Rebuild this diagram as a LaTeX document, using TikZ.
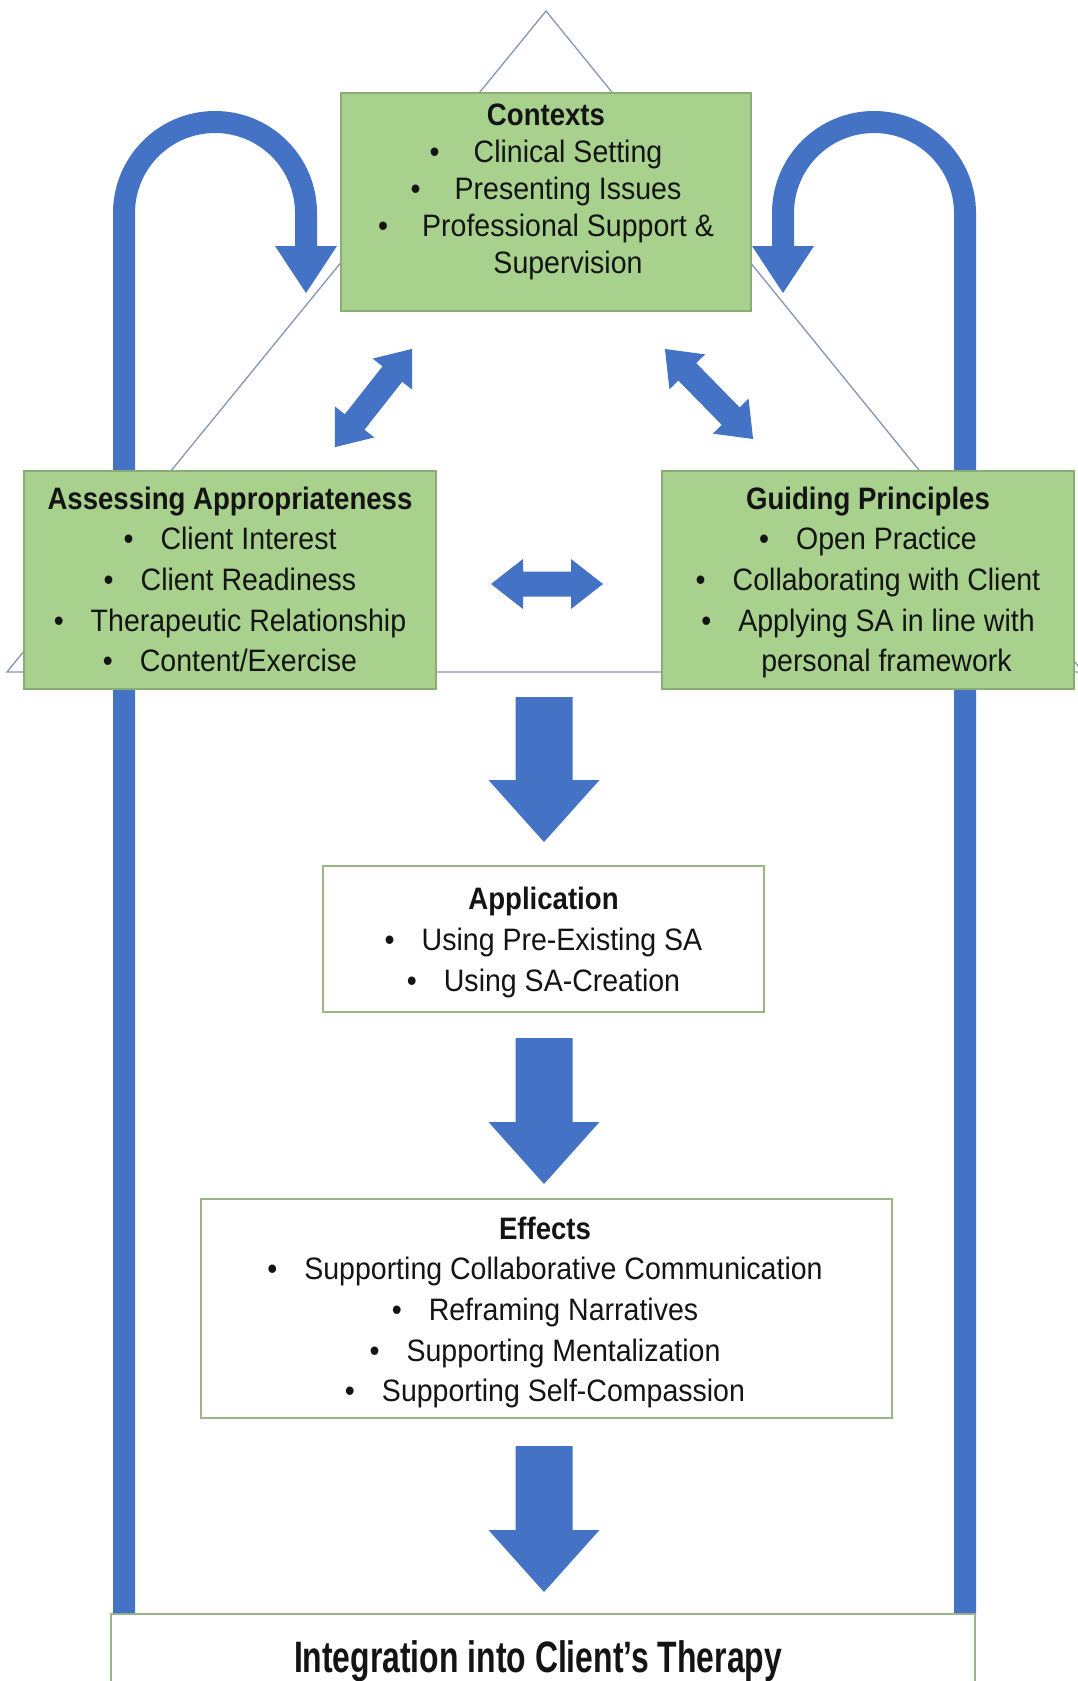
\documentclass[tikz,border=0pt]{standalone}
\usepackage{fontspec}
\setmainfont{Liberation Sans}[FakeStretch=0.92]
\newfontfamily\headfont{Liberation Sans}[FakeStretch=0.89]
\newfontfamily\bigheadfont{Liberation Sans}[FakeStretch=0.725]
\usetikzlibrary{calc}

\definecolor{sablue}{HTML}{4472C4}
\definecolor{gfill}{HTML}{A9D18E}
\definecolor{gline}{HTML}{8AAC75}
\definecolor{wline}{HTML}{9BB587}
\definecolor{triline}{HTML}{8496B0}

% bullets with their tab gap
\newcommand\bul{\makebox[37pt][l]{•}}
\newcommand\cbul{\makebox[44pt][l]{•}}
% fixed top/bottom extents so every text block centres the same way
\newcommand\topstrut{\rule{0pt}{24pt}}
\newcommand\botstrut{\rule[-7pt]{0pt}{7pt}}

\begin{document}
\begin{tikzpicture}[x=1pt,y=-1pt,
  gbox/.style={rectangle, draw=gline, fill=gfill, line width=1.6pt, inner sep=0pt},
  wbox/.style={rectangle, draw=wline, fill=white, line width=1.6pt, inner sep=0pt},
  txt/.style={align=center, inner sep=0pt, text=black!92, font=\fontsize{31}{40.6}\selectfont},
  loopband/.style={draw=sablue, line width=22pt},
  tri/.style={draw=triline, line width=1.3pt},
  pics/downblock/.style={code={
    \fill[sablue] (-28.5,0) -- (28.5,0) -- (28.5,{#1-62}) -- (55.5,{#1-62})
      -- (0,#1) -- (-55.5,{#1-62}) -- (-28.5,{#1-62}) -- cycle;}},
  pics/twoway/.style={code={
    \fill[sablue] ({-#1/2},0) -- ({-#1/2+32},25) -- ({-#1/2+32},12.5)
      -- ({#1/2-32},12.5) -- ({#1/2-32},25) -- ({#1/2},0)
      -- ({#1/2-32},-25) -- ({#1/2-32},-12.5) -- ({-#1/2+32},-12.5)
      -- ({-#1/2+32},-25) -- cycle;}}
]
\useasboundingbox (0,0) rectangle (1078,1681);

% background triangle
\coordinate (tapex) at (546,11);
\coordinate (tleft) at (7,672);
\coordinate (tright) at (1083,672);
\draw[tri] (tapex) -- (tleft) -- (tright) -- cycle;

% bottom box
\node[wbox, minimum width=864pt, minimum height=106pt] (integ) at (543,1667) {};

% feedback loops from the bottom back to the contexts
\coordinate (lturn) at (124,213);
\coordinate (lhead) at (306,247);
\coordinate (rturn) at (965,213);
\coordinate (rhead) at (783,247);
\draw[loopband] (lturn |- integ.north) -- (lturn)
  arc[start angle=180, end angle=0, radius=91pt] -- (lhead);
\fill[sablue] (lhead) ++(-31,-1) -- ++(62,0) -- ++(-31,47) -- cycle;
\draw[loopband] (rturn |- integ.north) -- (rturn)
  arc[start angle=0, end angle=180, radius=91pt] -- (rhead);
\fill[sablue] (rhead) ++(-31,-1) -- ++(62,0) -- ++(-31,47) -- cycle;

% two-way arrows between the three upper boxes
\pic[rotate=51.8] at (373.5,398) {twoway=125};
\pic[rotate=-45.6] at (709,394) {twoway=126};
\pic at (547,584) {twoway=112};

% boxes
\node[gbox, minimum width=410pt, minimum height=218pt] (ctx) at (546,202) {};
\node[gbox, minimum width=412pt, minimum height=218pt] (assess) at (230,580) {};
\node[gbox, minimum width=412pt, minimum height=218pt] (guide) at (868,580) {};
\node[wbox, minimum width=441pt, minimum height=146pt] (appl) at (543.5,939) {};
\node[wbox, minimum width=691pt, minimum height=219pt] (effects) at (546.5,1308.5) {};

% texts
\node[txt, font=\fontsize{31}{37}\selectfont] (ctxtext) at (546,190.5)
  {\topstrut{\headfont\bfseries Contexts}\\
   \cbul Clinical Setting\\
   \cbul Presenting Issues\\
   \cbul Professional Support \&\\
   \hspace*{44pt}Supervision\botstrut};
\node[txt] (assesstext) at (230,582)
  {\topstrut{\headfont\bfseries Assessing Appropriateness}\\
   \bul Client Interest\\
   \bul Client Readiness\\
   \bul Therapeutic Relationship\\
   \bul Content/Exercise\botstrut};
\node[txt] (guidetext) at (868,582)
  {\topstrut{\headfont\bfseries Guiding Principles}\\
   \bul Open Practice\\
   \bul Collaborating with Client\\
   \bul Applying SA in line with\\
   \hspace*{37pt}personal framework\botstrut};
\node[txt] (appltext) at (543.5,942)
  {\topstrut{\headfont\bfseries Application}\\
   \bul Using Pre-Existing SA\\
   \bul Using SA-Creation\botstrut};
\node[txt] (effectstext) at (545,1312)
  {\topstrut{\headfont\bfseries Effects}\\
   \bul Supporting Collaborative Communication\\
   \bul Reframing Narratives\\
   \bul Supporting Mentalization\\
   \bul Supporting Self-Compassion\botstrut};
\node[anchor=base, inner sep=0pt, text=black!92,
      font=\bigheadfont\bfseries\fontsize{44}{50}\selectfont] (integtext) at (538,1672)
  {Integration into Client’s Therapy};

% downward flow arrows
\pic at (544,697) {downblock=145};
\pic at (544,1038) {downblock=146};
\pic at (544,1446) {downblock=146};
\end{tikzpicture}
\end{document}
